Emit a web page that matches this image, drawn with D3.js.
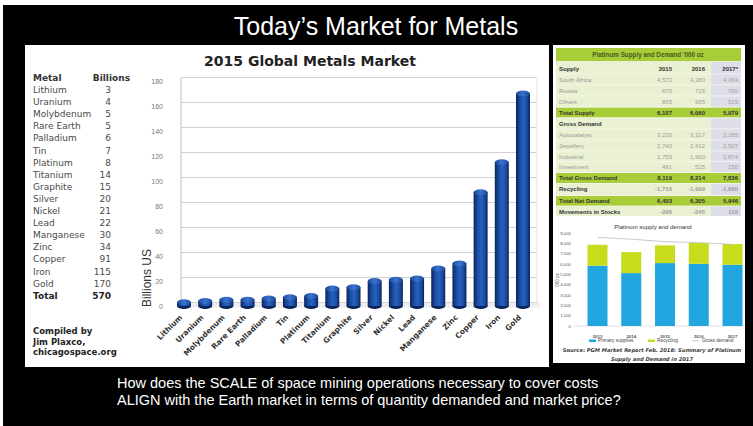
<!DOCTYPE html>
<html><head><meta charset="utf-8">
<script src="https://cdn.jsdelivr.net/npm/d3@7"></script>
<style>body{margin:0;background:#000;overflow:hidden} svg{display:block}</style>
</head><body><svg id="c" width="753" height="426"></svg>
<script>
// ---------- data ----------
const metals = ["Lithium","Uranium","Molybdenum","Rare Earth","Palladium","Tin","Platinum","Titanium","Graphite","Silver","Nickel","Lead","Manganese","Zinc","Copper","Iron","Gold"];
const billions = [3,4,5,5,6,7,8,14,15,20,21,22,30,34,91,115,170];
const totalBillions = 570;
const yTicks = [0,20,40,60,80,100,120,140,160,180];

const years = ["2013","2014","2015","2016","2017"];
const primarySupplies = [5830,5120,6090,6020,5920];
const recycling = [2030,2030,1710,2010,2010];
const grossDemand = [8570,8400,8170,8070,7900];
const miniTicks = [0,1000,2000,3000,4000,5000,6000,7000,8000,9000];

const tableYears = ["2015","2016","2017*"];
const tableLabels = ["Supply","South Africa","Russia","Others","Total Supply","Gross Demand","Autocatalyst","Jewellery","Industrial","Investment","Total Gross Demand","Recycling","Total Net Demand","Movements in Stocks"];
const tableKinds = ["head","row","row","row","band","head","row","row","row","row","band","head","band","head"];
const table2015 = ["","4,572","670","865","6,107","","3,220","2,740","1,753","481","8,119","-1,716","6,403","-296"];
const table2016 = ["","4,380","715","965","6,060","","3,317","2,412","1,960","525","8,214","-1,909","6,305","-245"];
const table2017 = ["","4,364","700","915","5,979","","3,285","2,507","1,874","150","7,836","-1,890","5,946","119"];

// ---------- drawing ----------
const svg = d3.select("#c");
svg.append("rect").attr("width",753).attr("height",426).attr("fill","#fff");
svg.append("rect").attr("x",3).attr("y",5).attr("width",750).attr("height",421).attr("fill","#000");

svg.append("text").attr("x",376).attr("y",35).attr("text-anchor","middle")
  .attr("font-family","Liberation Sans, Arial, sans-serif").attr("font-size",25).attr("fill","#fff")
  .text("Today’s Market for Metals");

// main white panel
svg.append("rect").attr("x",25).attr("y",45).attr("width",524).attr("height",322).attr("fill","#fff");

svg.append("text").attr("x",310).attr("y",66).attr("text-anchor","middle")
  .attr("font-family","DejaVu Sans, Verdana, sans-serif").attr("font-weight","bold").attr("font-size",14).attr("fill","#222")
  .text("2015 Global Metals Market");

// left table
const tbl = svg.append("g").attr("font-family","DejaVu Sans, Verdana, sans-serif").attr("font-size",9).attr("fill","#4a4a4a");
tbl.append("text").attr("x",33).attr("y",81).attr("font-weight","bold").attr("fill","#333").text("Metal");
tbl.append("text").attr("x",130).attr("y",81).attr("text-anchor","end").attr("font-weight","bold").attr("fill","#333").text("Billions");
metals.forEach((m,i)=>{
  tbl.append("text").attr("x",33).attr("y",93+i*12.1).text(m);
  tbl.append("text").attr("x",111).attr("y",93+i*12.1).attr("text-anchor","end").text(billions[i]);
});
tbl.append("text").attr("x",33).attr("y",93+17*12.1).attr("font-weight","bold").attr("fill","#222").text("Total");
tbl.append("text").attr("x",111).attr("y",93+17*12.1).attr("text-anchor","end").attr("font-weight","bold").attr("fill","#222").text(totalBillions);

const comp = svg.append("g").attr("font-family","DejaVu Sans, Verdana, sans-serif").attr("font-size",8.5).attr("font-weight","bold").attr("fill","#222");
["Compiled by","Jim Plaxco,","chicagospace.org"].forEach((t,i)=>comp.append("text").attr("x",33).attr("y",334+i*10.5).text(t));

// chart
const y = d3.scaleLinear().domain([0,180]).range([306,81]);
const x = d3.scalePoint().domain(metals).range([184,523]);
const grid = svg.append("g");
grid.selectAll("line.g").data(yTicks).enter().append("line")
  .attr("x1",181).attr("x2",537).attr("y1",d=>y(d)-3.5).attr("y2",d=>y(d)-3.5)
  .attr("stroke",d=>d===0?"#bbb":"#d2d2d2").attr("stroke-width",1.2);
grid.append("line").attr("x1",181).attr("x2",181).attr("y1",y(180)-3.5).attr("y2",y(0)-1).attr("stroke","#c4c4c4");
grid.append("line").attr("x1",537).attr("x2",537).attr("y1",y(180)-3.5).attr("y2",y(0)-3.5).attr("stroke","#e2e2e2");
grid.append("rect").attr("x",178).attr("y",y(0)-3.5).attr("width",362).attr("height",5).attr("fill","#eeeeee");
grid.selectAll("text").data(yTicks).enter().append("text")
  .attr("x",163).attr("y",d=>y(d)+2.5).attr("text-anchor","end")
  .attr("font-family","Liberation Sans, Arial, sans-serif").attr("font-size",7).attr("fill","#777").text(d=>d);

svg.append("text").attr("transform","translate(151,278) rotate(-90)").attr("text-anchor","middle")
  .attr("font-family","Liberation Sans, Arial, sans-serif").attr("font-size",12).attr("fill","#333").text("Billions US");

const defs = svg.append("defs");
const gr = defs.append("linearGradient").attr("id","bar").attr("x1","0").attr("x2","1").attr("y1","0").attr("y2","0");
[["0%","#0a2358"],["30%","#1b4fa8"],["55%","#2761bd"],["80%","#1a4a9e"],["100%","#0a2358"]].forEach(s=>gr.append("stop").attr("offset",s[0]).attr("stop-color",s[1]));
const gt = defs.append("linearGradient").attr("id","top").attr("x1","0").attr("x2","1");
[["0%","#1a4a9c"],["50%","#3a72cc"],["100%","#1a4a9c"]].forEach(s=>gt.append("stop").attr("offset",s[0]).attr("stop-color",s[1]));

const bw = 14;
const bars = svg.append("g").selectAll("g").data(metals).enter().append("g");
bars.append("ellipse").attr("cx",d=>x(d)).attr("cy",y(0)).attr("rx",bw/2).attr("ry",3).attr("fill","#0a2358");
bars.append("rect").attr("x",d=>x(d)-bw/2).attr("width",bw)
  .attr("y",(d,i)=>y(billions[i])).attr("height",(d,i)=>y(0)-y(billions[i])).attr("fill","url(#bar)");
bars.append("ellipse").attr("cx",d=>x(d)).attr("cy",(d,i)=>y(billions[i])).attr("rx",bw/2).attr("ry",3).attr("fill","url(#top)");

svg.append("g").selectAll("text").data(metals).enter().append("text")
  .attr("transform",d=>`translate(${x(d)-3},${316}) rotate(-45)`).attr("text-anchor","end").attr("dy","0.35em")
  .attr("font-family","DejaVu Sans, Verdana, sans-serif").attr("font-weight","bold").attr("font-size",7.5).attr("fill","#333").text(d=>d);

// ---------- right panel ----------
svg.append("rect").attr("x",553).attr("y",45).attr("width",192).attr("height",318).attr("fill","#fff");
const tx0 = 556, tx1 = 741;
svg.append("rect").attr("x",tx0).attr("y",48).attr("width",tx1-tx0).attr("height",168).attr("fill","#e9f1d2");
svg.append("rect").attr("x",711).attr("y",62).attr("width",tx1-711).attr("height",154).attr("fill","#dedee8");
svg.append("rect").attr("x",tx0).attr("y",48).attr("width",tx1-tx0).attr("height",13).attr("fill","#a8cd38");
svg.append("text").attr("x",648).attr("y",57).attr("text-anchor","middle")
  .attr("font-family","Liberation Sans, Arial, sans-serif").attr("font-size",6.3).attr("font-weight","bold").attr("fill","#4a5a20")
  .text("Platinum Supply and Demand '000 oz");
const rowY = [69,79.5,90.5,101.5,112.5,123.5,134.5,145.5,156.5,167,178,189,201,211.5];
const tg = svg.append("g").attr("font-family","Liberation Sans, Arial, sans-serif").attr("font-size",6);
tableLabels.forEach((lab,i)=>{
  const k = tableKinds[i], cy = rowY[i];
  if(k==="band") tg.append("rect").attr("x",tx0).attr("y",cy-5).attr("width",tx1-tx0).attr("height",10).attr("fill","#a8cd38");
  if(i>0) tg.append("line").attr("x1",tx0).attr("x2",tx1).attr("y1",cy-5.5).attr("y2",cy-5.5).attr("stroke","#f6f9ec").attr("stroke-width",0.8);
  const bold = k!=="row";
  tg.append("text").attr("x",559).attr("y",cy+2).attr("font-weight",bold?"bold":"normal").attr("fill",bold?"#333":"#9a9a9a").text(lab);
  const vals = [table2015[i],table2016[i],table2017[i]];
  const colX = [672,705,738];
  vals.forEach((v,j)=>{
    let txt = v; if(i===0) txt = tableYears[j];
    tg.append("text").attr("x",colX[j]).attr("y",cy+2).attr("text-anchor","end")
      .attr("font-weight",bold?"bold":"normal").attr("fill",(k==="row"||i===11||i===13)&&i!==0?"#a0a0a0":"#333").text(txt);
  });
});

// mini chart
const ym = d3.scaleLinear().domain([0,9000]).range([326,233]);
const xm = d3.scalePoint().domain(years).range([597.5,732.5]);
const mb = 20;
svg.append("text").attr("x",653).attr("y",229).attr("text-anchor","middle")
  .attr("font-family","Liberation Sans, Arial, sans-serif").attr("font-size",6).attr("fill","#333").text("Platinum supply and demand");
svg.append("g").selectAll("text").data(miniTicks).enter().append("text")
  .attr("x",571).attr("y",d=>ym(d)+1.5).attr("text-anchor","end")
  .attr("font-family","Liberation Sans, Arial, sans-serif").attr("font-size",4.3).attr("fill","#555").text(d=>d3.format(",")(d));
svg.append("text").attr("transform","translate(559,280) rotate(-90)").attr("text-anchor","middle")
  .attr("font-family","Liberation Sans, Arial, sans-serif").attr("font-size",4.5).attr("fill","#444").text("000 oz");
svg.append("line").attr("x1",574).attr("x2",744).attr("y1",ym(0)).attr("y2",ym(0)).attr("stroke","#ccc").attr("stroke-width",0.6);
svg.append("g").selectAll("rect").data(years).enter().append("rect")
  .attr("x",d=>xm(d)-mb/2).attr("width",mb).attr("y",(d,i)=>ym(primarySupplies[i])).attr("height",(d,i)=>ym(0)-ym(primarySupplies[i])).attr("fill","#22a6e0");
svg.append("g").selectAll("rect").data(years).enter().append("rect")
  .attr("x",d=>xm(d)-mb/2).attr("width",mb).attr("y",(d,i)=>ym(primarySupplies[i]+recycling[i])).attr("height",(d,i)=>ym(primarySupplies[i])-ym(primarySupplies[i]+recycling[i])).attr("fill","#c8dc1e");
svg.append("path").datum(years).attr("fill","none").attr("stroke","#c4c4c4").attr("stroke-width",0.9)
  .attr("d",d3.line().x(d=>xm(d)).y((d,i)=>ym(grossDemand[i])).curve(d3.curveMonotoneX));
svg.append("g").selectAll("text").data(years).enter().append("text")
  .attr("x",d=>xm(d)).attr("y",337.5).attr("text-anchor","middle")
  .attr("font-family","Liberation Sans, Arial, sans-serif").attr("font-size",4.3).attr("font-weight","bold").attr("fill","#555").text(d=>d);
const lg = svg.append("g").attr("font-family","Liberation Sans, Arial, sans-serif").attr("font-size",4.8).attr("fill","#444");
lg.append("rect").attr("x",589).attr("y",339.5).attr("width",7).attr("height",2.5).attr("fill","#22a6e0");
lg.append("text").attr("x",598).attr("y",342).text("Primary supplies");
lg.append("rect").attr("x",648).attr("y",339.5).attr("width",7).attr("height",2.5).attr("fill","#c8dc1e");
lg.append("text").attr("x",657).attr("y",342).text("Recycling");
lg.append("line").attr("x1",692).attr("x2",699).attr("y1",340.8).attr("y2",340.8).attr("stroke","#c4c4c4").attr("stroke-width",0.9);
lg.append("text").attr("x",702).attr("y",342).text("Gross demand");
const src = svg.append("text").attr("x",652).attr("y",352).attr("text-anchor","middle")
  .attr("font-family","DejaVu Sans, Verdana, sans-serif").attr("font-size",5.2).attr("font-weight","bold").attr("fill","#3a3a3a");
src.append("tspan").text("Source: ");
src.append("tspan").attr("font-style","italic").text("PGM Market Report Feb. 2018: Summary of Platinum");
svg.append("text").attr("x",652).attr("y",361).attr("text-anchor","middle")
  .attr("font-family","DejaVu Sans, Verdana, sans-serif").attr("font-size",5.2).attr("font-weight","bold").attr("font-style","italic").attr("fill","#3a3a3a")
  .text("Supply and Demand in 2017");

// bottom question
const q = svg.append("g").attr("font-family","Liberation Sans, Arial, sans-serif").attr("font-size",14.5).attr("fill","#fff");
q.append("text").attr("x",117).attr("y",388).text("How does the SCALE of space mining operations necessary to cover costs");
q.append("text").attr("x",117).attr("y",405).text("ALIGN with the Earth market in terms of quantity demanded and market price?");
</script>
</body></html>
